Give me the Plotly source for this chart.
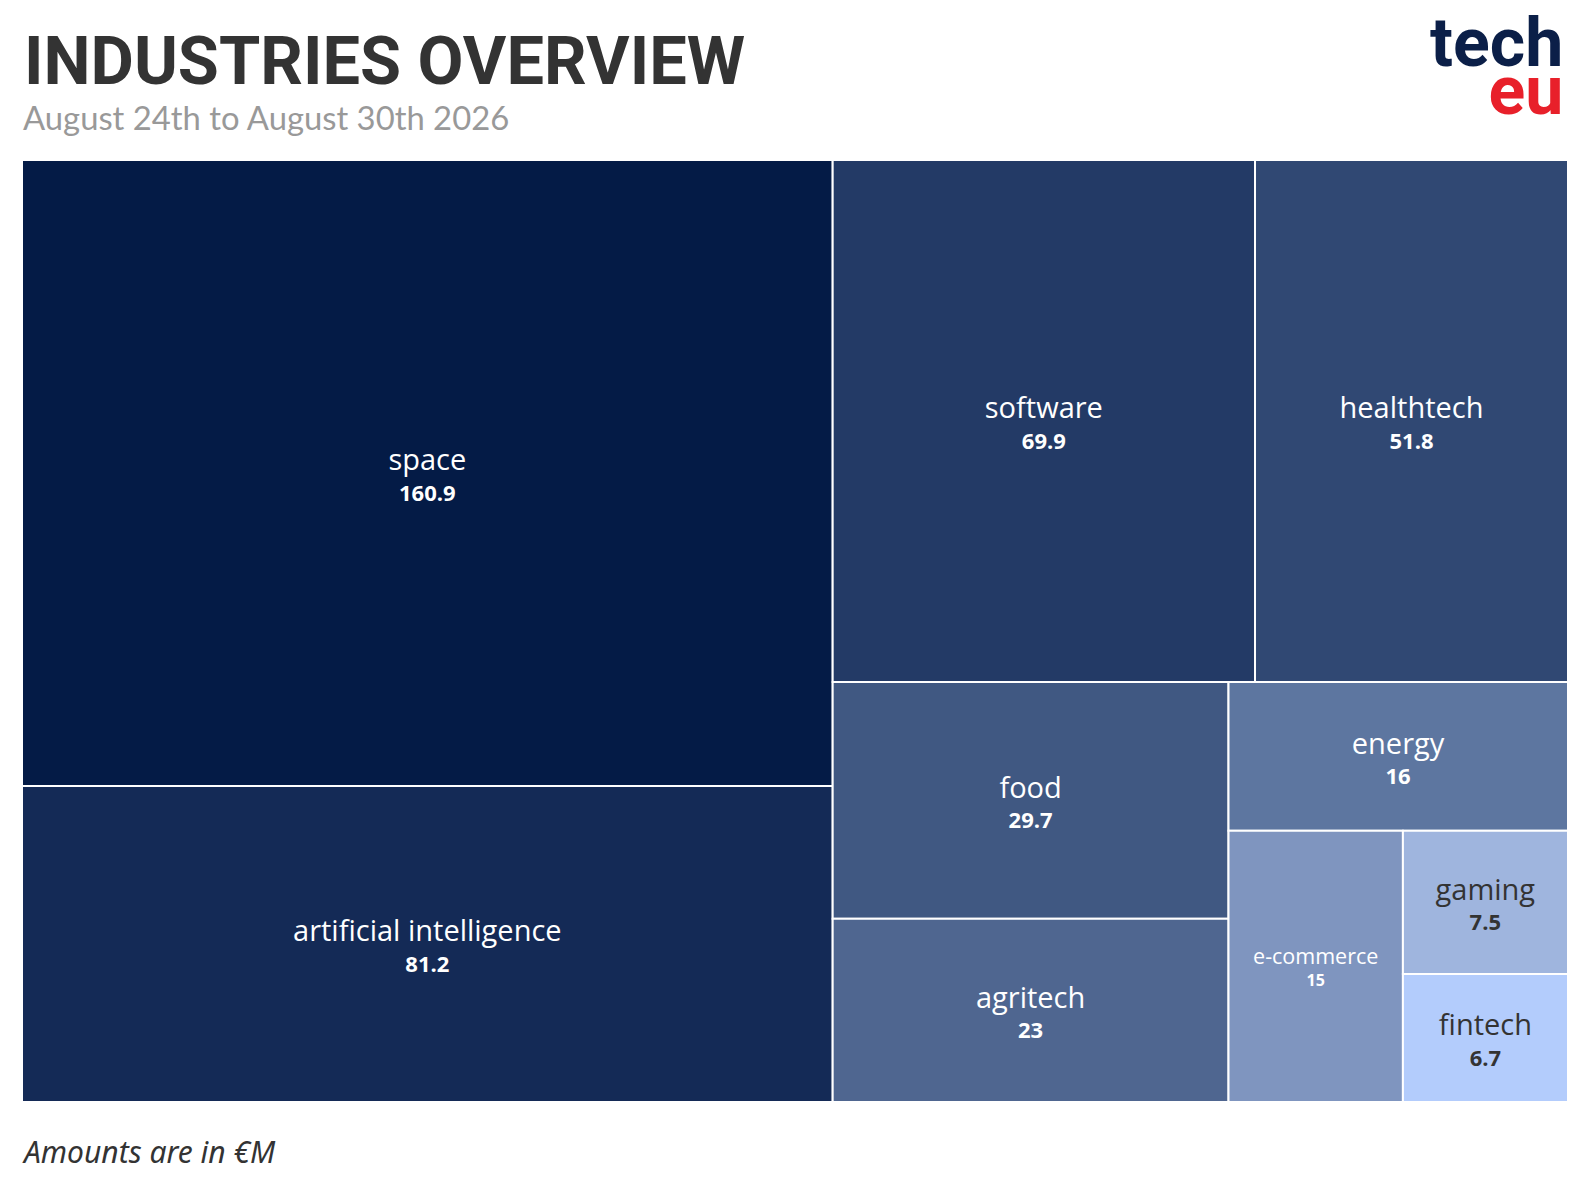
import plotly.graph_objects as go

# ================= data =================
INDUSTRIES = ["space", "artificial intelligence", "software", "healthtech", "food",
              "agritech", "energy", "e-commerce", "gaming", "fintech"]
AMOUNTS = [160.9, 81.2, 69.9, 51.8, 29.7, 23, 16, 15, 7.5, 6.7]
PARENTS = [""] * len(INDUSTRIES)

# ================= style =================
W, H = 1588, 1190
PLOT_L, PLOT_R, PLOT_T, PLOT_B = 22, 1568, 160, 1102   # page pixels of the tile area

TILE_COLORS = ["#041b46", "#142a56", "#233a66", "#304873", "#405882",
               "#4f6690", "#5d76a0", "#7f95bf", "#9fb5de", "#b3ccfc"]
TEXT_COLORS = ["#ffffff"] * 8 + ["#333333", "#333333"]
LABEL_SIZES = [29] * 7 + [21.5, 29, 29]
VALUE_SIZES = [22] * 7 + [16, 22, 22]
BASE_SIZES = [23.5] * 7 + [17, 23.5, 23.5]   # base size sets the gap between the two lines
TILE_FONT = "Open Sans, Noto Sans, sans-serif"

texts = [f"<span style='font-size:{ls}px'>{lab}</span><br>"
         f"<b><span style='font-size:{vs}px'>{v:g}</span></b>"
         for lab, v, ls, vs in zip(INDUSTRIES, AMOUNTS, LABEL_SIZES, VALUE_SIZES)]

fig = go.Figure(go.Treemap(
    labels=INDUSTRIES,
    parents=PARENTS,
    values=AMOUNTS,
    text=texts,
    texttemplate="%{text}",
    textposition="middle center",
    textfont=dict(family=TILE_FONT, color=TEXT_COLORS, size=BASE_SIZES),
    marker=dict(colors=TILE_COLORS, line=dict(color="white", width=2),
                pad=dict(t=0, l=0, r=0, b=0)),
    pathbar=dict(visible=False),
    tiling=dict(packing="binary", pad=0),   # d3 binary split, like the original
    sort=True,
    hoverinfo="label+value",
))

# title & subtitle, pinned to the top-left of the tile area with pixel shifts
fig.add_annotation(text="<b>INDUSTRIES OVERVIEW</b>", x=0, y=1, xref="paper", yref="paper",
                   xanchor="left", yanchor="bottom", xshift=0, yshift=PLOT_T - 102,
                   showarrow=False, font=dict(size=66.7, family="Roboto, sans-serif", color="#333333"))
fig.add_annotation(text="August 24th to August 30th 2026", x=0, y=1, xref="paper", yref="paper",
                   xanchor="left", yanchor="bottom", xshift=-1, yshift=PLOT_T - 139,
                   showarrow=False, font=dict(size=32.8, family="Lato, sans-serif", color="#999999"))

# footer note
fig.add_annotation(text="<i>Amounts are in €M</i>", x=0, y=0, xref="paper", yref="paper",
                   xanchor="left", yanchor="bottom", xshift=-2, yshift=PLOT_B - 1174,
                   showarrow=False, font=dict(size=30, family="Noto Sans, sans-serif", color="#333333"))

# logo: small base size keeps the two lines tight
fig.add_annotation(
    text="<span style='font-size:68px'><b>tech</b></span><br>"
         "<span style='font-size:68px;color:#e8202a'><b>eu</b></span>",
    x=1, y=1, xref="paper", yref="paper", xanchor="right", yanchor="top", align="right",
    xshift=1565 - PLOT_R, yshift=PLOT_T - 1, showarrow=False,
    font=dict(size=37, family="Roboto, sans-serif", color="#0b1f48", weight=900),
)

fig.update_layout(
    width=W, height=H,
    margin=dict(l=PLOT_L, r=W - PLOT_R, t=PLOT_T, b=H - PLOT_B),
    paper_bgcolor="white",
    showlegend=False,
)

fig.write_html("out.html", post_script="document.body.style.margin='0';",
               config={"displayModeBar": False})
